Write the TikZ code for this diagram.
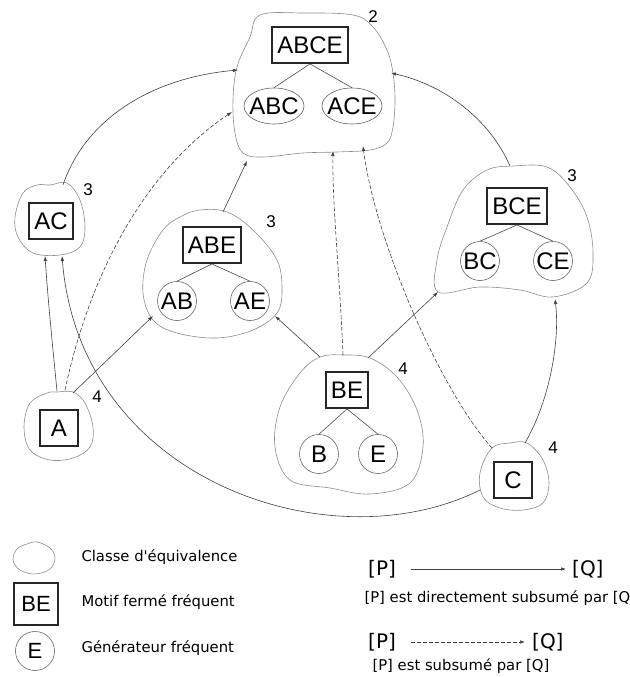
\documentclass[tikz,border=0pt]{standalone}
\usepackage{fontspec}
\setmainfont{Liberation Sans}
\newfontfamily\legendfont{DejaVu Sans}
\usetikzlibrary{arrows.meta,shapes.geometric}

\begin{document}
\begin{tikzpicture}[
  x=1pt, y=-1pt,
  every node/.style={font=\fontsize{24}{27}\selectfont},
  closed/.style={draw=black!85, line width=1.9pt, inner xsep=5pt, minimum width=38pt, minimum height=36pt},
  gen/.style={circle, draw=black!60, line width=0.6pt, inner sep=0pt, minimum size=39pt},
  genell/.style={ellipse, draw=black!60, line width=0.6pt, inner sep=0pt, minimum width=60pt, minimum height=36pt},
  cls/.style={draw=black!45, line width=0.6pt},
  branch/.style={draw=black!70, line width=0.6pt},
  supp/.style={font=\fontsize{17}{19}\selectfont},
  link/.style={draw=black!75, line width=0.6pt, -{Latex[length=5pt,width=3.5pt]}},
  weaklink/.style={link, dash pattern=on 4pt off 2pt},
  legend/.style={font=\legendfont\fontsize{14.8}{18}\selectfont, anchor=west},
  big/.style={font=\legendfont\fontsize{20}{24}\selectfont, inner sep=0pt}
]
\useasboundingbox (0,0) rectangle (629,677);

% classe 2
\draw[cls] plot[smooth cycle, tension=0.6] coordinates {(260,15) (303,13) (353,15) (373,27) (387,50)
  (393,73) (395,100) (393,127) (387,143) (370,150) (337,152) (303,153) (263,157) (243,153)
  (235,133) (233,100) (237,67) (250,37)};
\node[closed] (abce) at (310,45) {ABCE};
\node[genell] (abc) at (274,106) {\makebox[0pt]{ABC}};
\node[genell] (ace) at (352,106) {\makebox[0pt]{ACE}};
\draw[branch] (abce.south) -- (abc.north) (abce.south) -- (ace.north);
\node[supp] (s2) at (373,17) {2};
\coordinate (k2-a) at (238,70);
\coordinate (k2-b) at (232,112);
\coordinate (k2-c) at (247,161);
\coordinate (k2-d) at (333,151);
\coordinate (k2-e) at (363,146);
\coordinate (k2-f) at (391,73);

% classe AC
\draw[cls] plot[smooth cycle, tension=0.6] coordinates {(50,185) (67,183) (80,200) (85,227) (80,247)
  (60,255) (33,253) (18,237) (15,217) (23,193) (37,185)};
\node[closed] (ac) at (51,221) {AC};
\node[supp] (sac) at (88,190) {3};
\coordinate (kac-top) at (63,185);
\coordinate (kac-b1) at (45,256);
\coordinate (kac-b2) at (62,256);

% classe ABE
\draw[cls] plot[smooth cycle, tension=0.6] coordinates {(200,210) (227,212) (253,230) (277,260)
  (282,290) (277,313) (253,330) (217,338) (177,333) (153,320) (143,293) (147,260) (163,230) (180,217)};
\node[closed] (abe) at (212,245) {ABE};
\node[gen] (ab) at (177,301) {AB};
\node[gen] (ae) at (250,301) {AE};
\draw[branch] (abe.south) -- (ab.north) (abe.south) -- (ae.north);
\node[supp] (sabe) at (271,222) {3};
\coordinate (kabe-top) at (223,212);
\coordinate (kabe-sw) at (153,316);
\coordinate (kabe-se) at (275,316);

% classe BCE
\draw[cls] plot[smooth cycle, tension=0.6] coordinates {(487,170) (513,166) (547,167) (570,187)
  (587,217) (593,253) (587,283) (553,297) (520,290) (480,287) (438,292) (437,260) (447,227) (463,190)};
\node[closed] (bce) at (517,206) {BCE};
\node[gen] (bc) at (480,261) {BC};
\node[gen] (ce) at (553,261) {CE};
\draw[branch] (bce.south) -- (bc.north) (bce.south) -- (ce.north);
\node[supp] (sbce) at (572,176) {3};
\coordinate (kbce-top) at (510,166);
\coordinate (kbce-sw) at (438,292);
\coordinate (kbce-s) at (555,299);

% classe BE
\draw[cls] plot[smooth cycle, tension=0.6] coordinates {(320,357) (343,355) (370,358) (397,377)
  (417,410) (423,447) (410,483) (370,494) (330,488) (290,480) (275,447) (280,407) (300,373)};
\node[closed] (be) at (347,390) {BE};
\node[gen] (b) at (319,454) {B};
\node[gen] (e) at (378,454) {E};
\draw[branch] (be.south) -- (b.north) (be.south) -- (e.north);
\node[supp] (sbe) at (403,369) {4};
\coordinate (kbe-n1) at (320,357);
\coordinate (kbe-n2) at (343,355);
\coordinate (kbe-n3) at (368,358);

% classe A
\draw[cls] plot[smooth cycle, tension=0.6] coordinates {(57,392) (73,392) (85,403) (93,427) (90,447)
  (73,458) (50,460) (30,450) (24,427) (30,403) (47,393)};
\node[closed] (a) at (59,428) {A};
\node[supp] (sa) at (97,397) {4};
\coordinate (ka-n1) at (57,391);
\coordinate (ka-n2) at (65,390);
\coordinate (ka-n3) at (73,393);

% classe C
\draw[cls] plot[smooth cycle, tension=0.6] coordinates {(492,448) (510,443) (527,443) (543,460)
  (549,483) (543,503) (523,510) (500,508) (483,497) (480,473)};
\node[closed] (c) at (513,480) {C};
\node[supp] (sc) at (553,448) {4};
\coordinate (kc-nw) at (492,448);
\coordinate (kc-n) at (525,443);
\coordinate (kc-w) at (480,490);

% subsomption
\draw[link] (kac-top) .. controls (85,120) and (150,78) .. (k2-a);
\draw[weaklink] (ka-n2) .. controls (95,250) and (160,160) .. (k2-b);
\draw[link] (ka-n1) .. controls (52,340) and (48,300) .. (kac-b1);
\draw[link] (ka-n3) -- (kabe-sw);
\draw[link] (kc-w) .. controls (330,565) and (80,480) .. (kac-b2);
\draw[link] (kabe-top) -- (k2-c);
\draw[link] (kbe-n1) -- (kabe-se);
\draw[weaklink] (kbe-n2) .. controls (340,280) and (332,200) .. (k2-d);
\draw[link] (kbe-n3) -- (kbce-sw);
\draw[weaklink] (kc-nw) .. controls (440,390) and (375,240) .. (k2-e);
\draw[link] (kc-n) .. controls (550,400) and (560,340) .. (kbce-s);
\draw[link] (kbce-top) .. controls (490,120) and (445,85) .. (k2-f);

% legende
\draw[cls] plot[smooth cycle, tension=0.6] coordinates {(37,542) (50,548) (55,558) (50,569) (35,574)
  (20,570) (13,560) (17,549) (27,544)};
\node[legend] (lcls) at (78,557) {Classe d'équivalence};
\node[closed, minimum width=44pt, minimum height=42pt, font=\fontsize{22}{24}\selectfont] (lbe) at (36,604) {BE};
\node[legend] (lclosed) at (78,602) {Motif fermé fréquent};
\node[gen, font=\fontsize{22}{24}\selectfont] (le) at (35,651) {E};
\node[legend] (lgen) at (78,648) {Générateur fréquent};

\node[big, anchor=west] (p1) at (368,569) {[P]};
\node[big, anchor=west] (q1) at (572,569) {[Q]};
\draw[link, shorten <=15pt, shorten >=6pt] (p1) -- (q1);
\node[legend] (t1) at (361,598) {[P] est directement subsumé par [Q};
\node[big, anchor=west] (p2) at (368,642) {[P]};
\node[big, anchor=west] (q2) at (532,642) {[Q]};
\draw[weaklink, shorten <=15pt, shorten >=7pt] (p2) -- (q2);
\node[legend] (t2) at (369,666) {[P] est subsumé par [Q]};
\end{tikzpicture}
\end{document}
